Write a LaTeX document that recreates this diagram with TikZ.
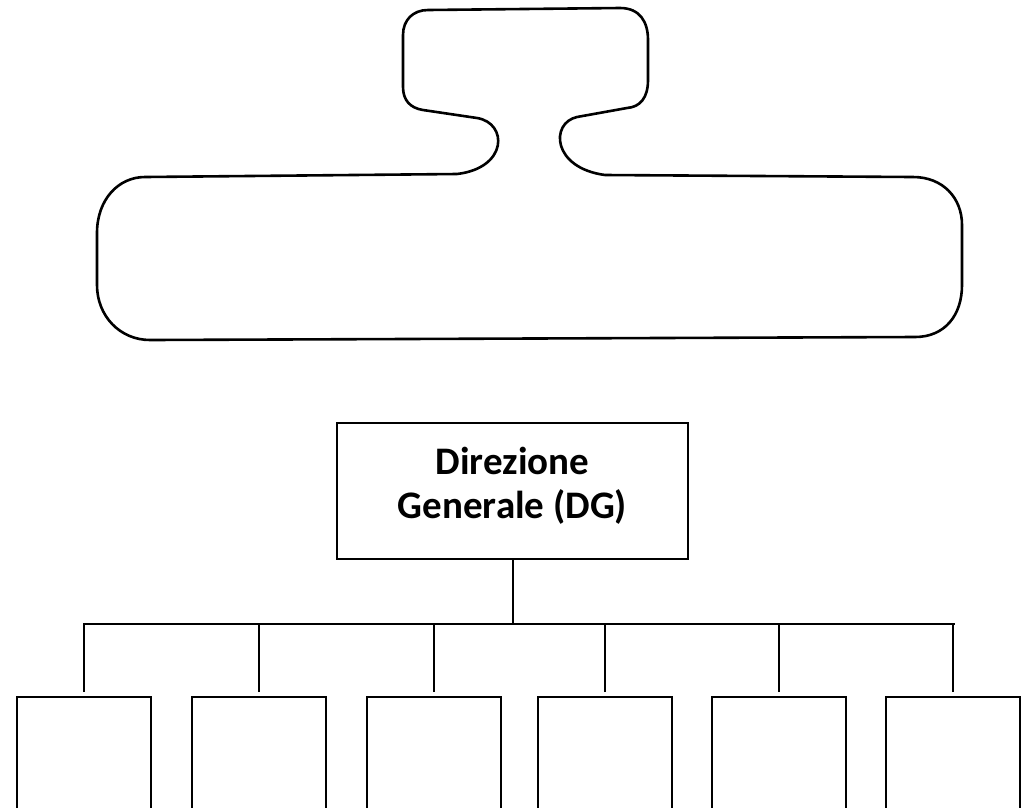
\documentclass[tikz,border=0pt]{standalone}
\usepackage{fontspec}
\setmainfont{Carlito}
\begin{document}
\begin{tikzpicture}[x=1pt,y=-1pt,
  outline/.style={line width=2.6pt, line join=round},
  dgbox/.style={draw, line width=2pt, rectangle, inner sep=0pt,
    minimum width=351pt, minimum height=136pt, align=center,
    font=\fontsize{39pt}{44pt}\selectfont\bfseries, text depth=16pt},
  unitbox/.style={draw, line width=2pt, rectangle, inner sep=0pt,
    minimum width=134pt, minimum height=150pt, anchor=north},
  link/.style={line width=2pt}]
\clip (0,0) rectangle (1027,807);
\fill[white] (0,0) rectangle (1027,807);
% top outline shape
\draw[outline] (428,10) -- (620,8)
  .. controls (640,8) and (648,22) .. (648,40) -- (648,80)
  .. controls (648,98) and (640,107) .. (627,108) -- (577,117)
  .. controls (550,123) and (552,168) .. (605,175) -- (913,177)
  .. controls (943,177) and (962,198) .. (962,225) -- (962,285)
  .. controls (962,315) and (945,337) .. (915,337) -- (150,340)
  .. controls (120,340) and (97,316) .. (97,285) -- (97,233)
  .. controls (97,200) and (118,177) .. (145,177) -- (457,174)
  .. controls (508,168) and (508,123) .. (477,118) -- (423,110)
  .. controls (410,108) and (403,100) .. (403,87) -- (403,35)
  .. controls (403,20) and (413,10) .. (428,10) -- cycle;
% org chart
\node[dgbox] (dg) at (512.5,491) {Direzione\\Generale (DG)};
\node[unitbox] (u1) at (83.5,696) {};
\node[unitbox] (u2) at (258.5,696) {};
\node[unitbox] (u3) at (434,696) {};
\node[unitbox] (u4) at (605,696) {};
\node[unitbox] (u5) at (778.5,696) {};
\node[unitbox] (u6) at (952.5,696) {};
\coordinate (busL) at (83,624);
\coordinate (busR) at (955,624);
\draw[link] (dg.south) -- (dg.south |- busL);
\draw[link] (busL) -- (busR);
\foreach \u in {u1,u2,u3,u4,u5,u6}{
  \draw[link] ([yshift=4pt]\u.north) -- (\u.north |- busL);
}
\end{tikzpicture}
\end{document}
